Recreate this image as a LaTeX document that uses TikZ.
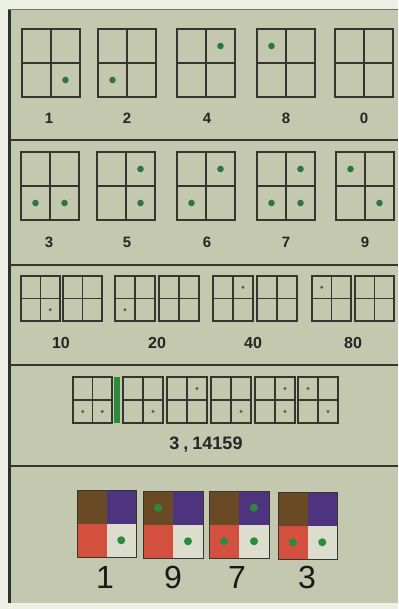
\documentclass[tikz,border=0pt]{standalone}
\usepackage{fontspec}
\setmainfont{Liberation Sans}
\definecolor{panelbg}{HTML}{C3C8AE}
\definecolor{paper}{HTML}{EEF0E6}
\definecolor{edge}{HTML}{26362E}
\definecolor{ink}{HTML}{34362F}
\definecolor{dotgreen}{HTML}{2E7540}
\definecolor{brightgreen}{HTML}{2C8A3C}
\definecolor{barbrown}{HTML}{6A4A24}
\definecolor{barpurple}{HTML}{4E347E}
\definecolor{barred}{HTML}{D4503E}
\definecolor{cellwhite}{HTML}{DCDDCC}
\tikzset{
	gridline/.style={draw=ink, line width=1.1pt},
	divider/.style={draw=ink, line width=1.6pt},
	lbl/.style={font=\fontsize{15}{15}\selectfont\bfseries, text=black!85, inner sep=0pt},
	biglbl/.style={font=\fontsize{32}{32}\selectfont, text=black!90, inner sep=0pt}
}
% box with four cells: x, y (top left), width, height, dots (col/row), dot radius
\newcommand{\cellbox}[6]{%
	\draw[gridline] (#1,#2) rectangle ++(#3,#4);
	\draw[gridline] (#1+#3/2,#2) -- ++(0,#4) (#1,#2+#4/2) -- ++(#3,0);
	\foreach \cx/\cy in {#5}
		\fill[dotgreen] (#1+#3/4+\cx*#3/2,#2+#4/4+\cy*#4/2) circle (#6);
}
% coloured box: x, y, width, height, dots (col/row)
\newcommand{\colourbox}[5]{%
	\fill[barbrown] (#1,#2) rectangle ++(#3/2,#4/2);
	\fill[barpurple] (#1+#3/2,#2) rectangle ++(#3/2,#4/2);
	\fill[barred] (#1,#2+#4/2) rectangle ++(#3/2,#4/2);
	\fill[cellwhite] (#1+#3/2,#2+#4/2) rectangle ++(#3/2,#4/2);
	\draw[draw=ink, line width=0.6pt] (#1,#2) rectangle ++(#3,#4);
	\foreach \cx/\cy in {#5}
		\fill[brightgreen] (#1+#3/4+\cx*#3/2,#2+#4/4+\cy*#4/2) circle (4);
}
\begin{document}
\begin{tikzpicture}[x=1pt, y=-1pt]
	\useasboundingbox (0,0) rectangle (398,609);
	\fill[paper] (0,0) rectangle (398,609);
	\fill[panelbg] (8,9) rectangle (398,603);
	\fill[edge] (8,9) rectangle (10.5,603);
	\draw[draw=ink!70, line width=0.8pt] (8,9.5) -- (398,9.5);

	% dividers
	\foreach \yy in {140,265,365,466}
		\draw[divider] (10,\yy) -- (398,\yy);

	% row 1: single bits
	\cellbox{22}{29}{58}{68}{1/1}{3.3}
	\cellbox{98}{29}{58}{68}{0/1}{3.3}
	\cellbox{177}{29}{58}{68}{1/0}{3.3}
	\cellbox{257}{29}{58}{68}{0/0}{3.3}
	\cellbox{335}{29}{58}{68}{}{3.3}
	\node[lbl] (one) at (49,118) {1};
	\node[lbl] (two) at (127,118) {2};
	\node[lbl] (four) at (207,118) {4};
	\node[lbl] (eight) at (286,118) {8};
	\node[lbl] (zero) at (364,118) {0};

	% row 2: sums
	\cellbox{21}{152}{58}{68}{0/1,1/1}{3.3}
	\cellbox{97}{152}{58}{68}{1/0,1/1}{3.3}
	\cellbox{177}{152}{58}{68}{1/0,0/1}{3.3}
	\cellbox{257}{152}{58}{68}{1/0,0/1,1/1}{3.3}
	\cellbox{336}{152}{58}{68}{0/0,1/1}{3.3}
	\node[lbl] (three) at (49,242) {3};
	\node[lbl] (five) at (127,242) {5};
	\node[lbl] (six) at (207,242) {6};
	\node[lbl] (seven) at (286,242) {7};
	\node[lbl] (nine) at (365,242) {9};

	% row 3: tens
	\cellbox{21}{276}{39}{45}{1/1}{1.7}
	\cellbox{63}{276}{39}{45}{}{1.7}
	\cellbox{115}{276}{40}{45}{0/1}{1.7}
	\cellbox{159}{276}{40}{45}{}{1.7}
	\cellbox{213}{276}{40}{45}{1/0}{1.7}
	\cellbox{257}{276}{40}{45}{}{1.7}
	\cellbox{312}{276}{39}{45}{0/0}{1.7}
	\cellbox{355}{276}{39}{45}{}{1.7}
	\node[lbl, font=\fontsize{16}{16}\selectfont\bfseries] (ten) at (61,343) {10};
	\node[lbl, font=\fontsize{16}{16}\selectfont\bfseries] (twenty) at (157,343) {20};
	\node[lbl, font=\fontsize{16}{16}\selectfont\bfseries] (forty) at (253,343) {40};
	\node[lbl, font=\fontsize{16}{16}\selectfont\bfseries] (eighty) at (353,343) {80};

	% row 4: pi
	\cellbox{73}{377}{39}{46}{0/1,1/1}{1.6}
	\fill[brightgreen] (114,377) rectangle (120,423);
	\cellbox{123}{377}{40}{46}{1/1}{1.6}
	\cellbox{167}{377}{40}{46}{1/0}{1.6}
	\cellbox{211}{377}{40}{46}{1/1}{1.6}
	\cellbox{255}{377}{40}{46}{1/0,1/1}{1.6}
	\cellbox{298}{377}{40}{46}{0/0,1/1}{1.6}
	\node[lbl, font=\fontsize{18}{18}\selectfont\bfseries] (pi) at (206,445) {3\hspace{4pt},\hspace{4pt}14159};

	% row 5: coloured year
	\colourbox{77}{490}{59}{67}{1/1}
	\colourbox{143}{491}{60}{67}{0/0,1/1}
	\colourbox{209}{491}{60}{67}{1/0,0/1,1/1}
	\colourbox{278}{492}{59}{67}{0/1,1/1}
	\node[biglbl] (yearone) at (105,577) {1};
	\node[biglbl] (yearnine) at (173,577) {9};
	\node[biglbl] (yearseven) at (237,577) {7};
	\node[biglbl] (yearthree) at (307,577) {3};
\end{tikzpicture}
\end{document}
